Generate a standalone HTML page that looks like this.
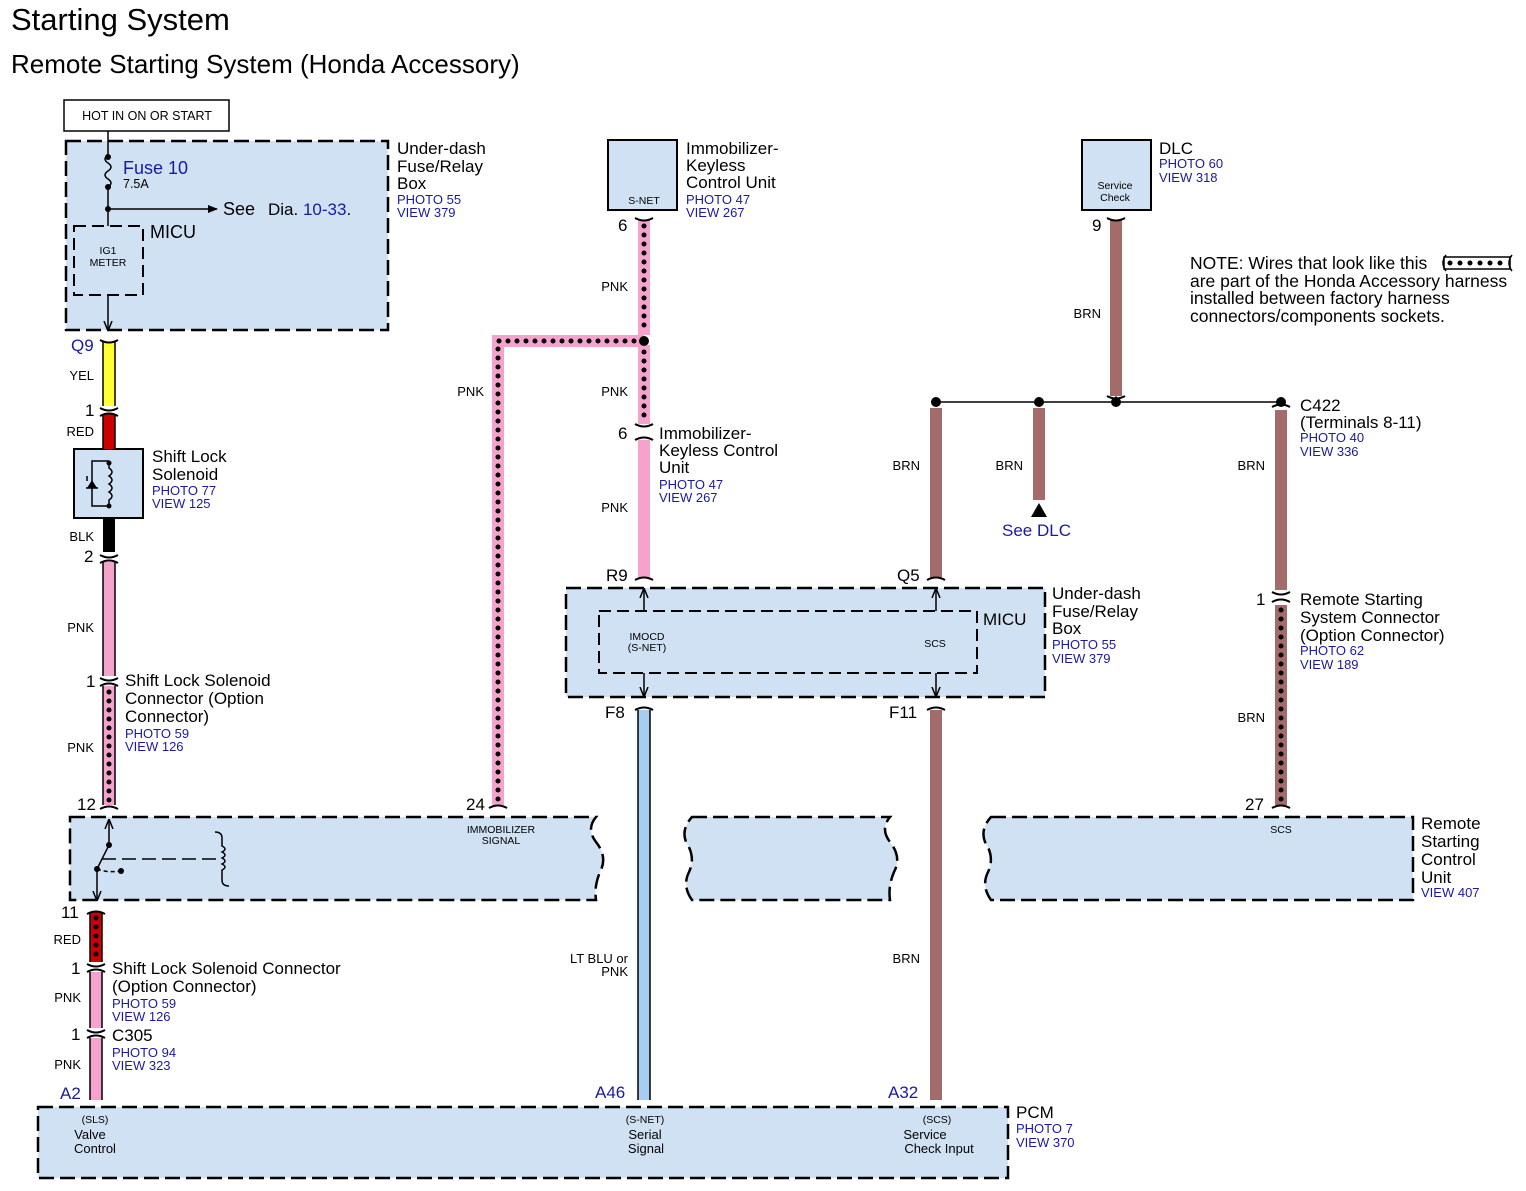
<!DOCTYPE html>
<html><head><meta charset="utf-8"><style>
html,body{margin:0;padding:0;background:#fff}
svg{display:block}
text{font-family:"Liberation Sans",Arial,sans-serif}
.b{fill:#1a1aa0}
</style></head><body>
<svg width="1526" height="1191" viewBox="0 0 1526 1191" xmlns="http://www.w3.org/2000/svg">
<defs>
<marker id="ar" markerWidth="10" markerHeight="10" refX="9" refY="5" orient="auto" markerUnits="userSpaceOnUse"><path d="M0,1 L10,5 L0,9" fill="none" stroke="#000" stroke-width="1.5"/></marker>
<marker id="af" markerWidth="10" markerHeight="10" refX="9" refY="5" orient="auto" markerUnits="userSpaceOnUse"><path d="M0,1 L10,5 L0,9 z" fill="#000"/></marker>
</defs>
<text x="11" y="30" font-size="31">Starting System</text>
<text x="11" y="73" font-size="26">Remote Starting System (Honda Accessory)</text>

<!-- HOT box -->
<rect x="64" y="100" width="165" height="31" fill="#fff" stroke="#000" stroke-width="1.5"/>
<text x="147" y="120" font-size="12.5" text-anchor="middle">HOT IN ON OR START</text>

<g fill="#cfe1f3" stroke="#000" stroke-width="2.5" stroke-dasharray="15 6">
<rect x="66" y="141" width="322" height="189"/>
<rect x="566" y="588" width="479" height="109"/>
<rect x="38" y="1107" width="970" height="71"/>
</g>
<g fill="#cfe1f3" stroke="#000" stroke-width="2.5" stroke-dasharray="15 6">
<path d="M70,817 H596 q-10,12 0,25 q12,15 4,30 q-6,14 -4,28 H70 Z"/>
<path d="M692,817 H890 q-10,12 0,25 q12,15 4,30 q-6,14 -4,28 H692 q-10,-14 -3,-28 q7,-15 -3,-30 q-5,-13 6,-25 Z"/>
<path d="M991,817 H1413 V900 H991 q-10,-14 -3,-28 q7,-15 -3,-30 q-5,-13 6,-25 Z"/>
</g>
<g fill="#cfe1f3" stroke="#000" stroke-width="2" stroke-dasharray="12 6">
<rect x="74" y="226" width="69" height="69"/>
<rect x="599" y="611" width="378" height="62"/>
</g>
<g fill="#cfe1f3" stroke="#000" stroke-width="2">
<rect x="608" y="140" width="69" height="70"/>
<rect x="1082" y="140" width="69" height="70"/>
<rect x="74" y="449" width="69" height="69"/>
</g>

<!-- fuse box internals -->
<g stroke="#000" stroke-width="1.5" fill="none">
<path d="M108,131 V155 q-6,4 0,8 q6,4 0,8 q-6,4 0,8 q6,4 0,8 V226"/>
<path d="M108,209 H217" marker-end="url(#af)"/>
<path d="M108,295 V330" marker-end="url(#ar)"/>
</g>
<g fill="#000"><circle cx="108" cy="157" r="3"/><circle cx="108" cy="187" r="3"/><circle cx="108" cy="209" r="3"/></g>
<text x="123" y="174" font-size="18" class="b">Fuse 10</text>
<text x="123" y="188" font-size="12.5">7.5A</text>
<text x="223" y="215" font-size="18">See</text><text x="268" y="215" font-size="17">Dia. <tspan class="b">10-33</tspan>.</text>
<text x="150" y="238" font-size="18">MICU</text>
<text x="108" y="254" font-size="10.5" text-anchor="middle">IG1</text>
<text x="108" y="266" font-size="10.5" text-anchor="middle">METER</text>
<g font-size="17"><text x="397" y="154">Under-dash</text><text x="397" y="172">Fuse/Relay</text><text x="397" y="189">Box</text></g>
<g font-size="13" class="b"><text x="397" y="204">PHOTO 55</text><text x="397" y="217">VIEW 379</text></g>

<!-- wires -->
<g stroke-width="12" fill="none">
<path d="M109,342 V406" stroke="#ffff33"/>
<path d="M109,414 V449" stroke="#cc0000"/>
<path d="M109,518 V552" stroke="#000"/>
<path d="M109,562 V676" stroke="#f5a3cc"/>
<path d="M109,686 V805" stroke="#f5a3cc"/>
<path d="M96,912 V962" stroke="#cc0000"/>
<path d="M96,972 V1028" stroke="#f5a3cc"/>
<path d="M96,1038 V1100" stroke="#f5a3cc"/>
<path d="M644,220 V335 M644,345 V424 M644,440 V578" stroke="#f5a3cc"/>
<path d="M644,341 H498 V805" stroke="#f5a3cc" stroke-linejoin="miter"/>
<path d="M644,710 V1100" stroke="#a6cdf2"/>
<path d="M1116,220 V396 M936,408 V578 M1039,408 V500 M1281,410 V590 M1281,605 V805 M936,710 V1100" stroke="#a46b6b"/>
</g>
<g stroke="#000" stroke-width="1.5" fill="none">
<path d="M103,342 V406 M115,342 V406 M103,414 V449 M115,414 V449 M103,562 V676 M115,562 V676 M103,686 V805 M115,686 V805 M90,912 V962 M102,912 V962 M90,972 V1028 M102,972 V1028 M90,1038 V1100 M102,1038 V1100"/>
<path d="M638,710 V1100 M650,710 V1100"/>
<path d="M936,402 H1281"/>
</g>
<g stroke="#000" stroke-width="5" stroke-linecap="round" stroke-dasharray="0 9" fill="none">
<path d="M109,692 V802 M96,918 V958 M644,226 V330 M644,352 V420 M1281,610 V802"/>
<path d="M634,341 H498 V802"/>
</g>
<g fill="#000"><circle cx="644" cy="341" r="5"/><circle cx="936" cy="402" r="5"/><circle cx="1039" cy="402" r="5"/><circle cx="1116" cy="402" r="5"/><circle cx="1281" cy="402" r="5"/></g>
<path d="M1031,517 L1039,503 L1047,517 Z" fill="#000"/>
<path d="M1116,396 V402" stroke="#000"/>

<!-- connectors -->
<g stroke="#000" stroke-width="2" fill="none">
<path d="M100,340 q9,5 18,0 M100,408 q9,5 18,0 M100,416 q9,-5 18,0 M100,555 q9,5 18,0 M100,563 q9,-5 18,0 M100,678 q9,5 18,0 M100,686 q9,-5 18,0 M100,809 q9,-5 18,0"/>
<path d="M87,914 q9,-5 18,0 M87,964 q9,5 18,0 M87,972 q9,-5 18,0 M87,1030 q9,5 18,0 M87,1038 q9,-5 18,0"/>
<path d="M635,218 q9,5 18,0 M635,424 q9,5 18,0 M635,440 q9,-5 18,0 M635,580 q9,-5 18,0 M635,710 q9,-5 18,0"/>
<path d="M489,808 q9,-5 18,0 M1107,218 q9,5 18,0 M1107,396 q9,5 18,0 M927,580 q9,-5 18,0 M927,710 q9,-5 18,0 M1272,407 q9,-5 18,0 M1272,592 q9,5 18,0 M1272,602 q9,-5 18,0 M1272,808 q9,-5 18,0"/>
</g>

<!-- solenoid -->
<g stroke="#000" stroke-width="1.5" fill="none">
<path d="M109,461 V468 q6,4 0,8 q6,4 0,8 q6,4 0,8 q6,4 0,8 V506 H92 V461 H109"/>
<path d="M86,488 H98"/><path d="M87,476 V481"/>
</g>
<path d="M87,488 L92,480 L97,488 Z" fill="#000"/>
<g fill="#000"><circle cx="109" cy="463" r="2.5"/><circle cx="109" cy="506" r="2.5"/></g>

<!-- relay -->
<g stroke="#000" stroke-width="1.5" fill="none">
<path d="M109,845 V820" marker-end="url(#ar)"/>
<path d="M109,845 L97,869"/>
<path d="M97,869 V900" marker-end="url(#ar)"/>
<path d="M97,869 q10,4 24,2" stroke-dasharray="4 3"/>
<path d="M102,859 H222" stroke-dasharray="14 6"/>
<path d="M215,832 q7,0 7,6 V846 q6,3 0,6 q6,3 0,6 q6,3 0,6 q6,3 0,6 V880 q0,6 7,6"/>
</g>
<g fill="#000"><circle cx="109" cy="845" r="3"/><circle cx="97" cy="869" r="3"/><circle cx="121" cy="871" r="3"/></g>

<g stroke="#000" stroke-width="1.5" fill="none">
<path d="M644,611 V589" marker-end="url(#ar)"/><path d="M936,611 V589" marker-end="url(#ar)"/>
<path d="M644,673 V696" marker-end="url(#ar)"/><path d="M936,673 V696" marker-end="url(#ar)"/>
</g>

<!-- labels -->
<g font-size="17">
<text x="71" y="351" class="b">Q9</text><text x="85" y="416">1</text><text x="84" y="562">2</text><text x="86" y="687">1</text><text x="77" y="810">12</text>
<text x="61" y="918">11</text><text x="71" y="974">1</text><text x="71" y="1040">1</text><text x="60" y="1099" class="b">A2</text>
<text x="466" y="810">24</text><text x="618" y="231">6</text><text x="618" y="439">6</text><text x="606" y="581">R9</text>
<text x="605" y="718">F8</text><text x="595" y="1098" class="b">A46</text>
<text x="1092" y="231">9</text><text x="897" y="581">Q5</text><text x="889" y="718">F11</text><text x="888" y="1098" class="b">A32</text>
<text x="1256" y="605">1</text><text x="1245" y="810">27</text>
<text x="152" y="462">Shift Lock</text><text x="152" y="480">Solenoid</text>
<text x="125" y="686">Shift Lock Solenoid</text><text x="125" y="704">Connector (Option</text><text x="125" y="722">Connector)</text>
<text x="112" y="974">Shift Lock Solenoid Connector</text><text x="112" y="992">(Option Connector)</text>
<text x="112" y="1041">C305</text>
<text x="686" y="154">Immobilizer-</text><text x="686" y="171">Keyless</text><text x="686" y="188">Control Unit</text>
<text x="659" y="439">Immobilizer-</text><text x="659" y="456">Keyless Control</text><text x="659" y="473">Unit</text>
<text x="983" y="625">MICU</text>
<text x="1052" y="599">Under-dash</text><text x="1052" y="617">Fuse/Relay</text><text x="1052" y="634">Box</text>
<text x="1159" y="154">DLC</text>
<text x="1300" y="411">C422</text><text x="1300" y="428">(Terminals 8-11)</text>
<text x="1002" y="536" class="b">See DLC</text>
<text x="1300" y="605">Remote Starting</text><text x="1300" y="623">System Connector</text><text x="1300" y="641">(Option Connector)</text>
<text x="1421" y="829">Remote</text><text x="1421" y="847">Starting</text><text x="1421" y="865">Control</text><text x="1421" y="883">Unit</text>
<text x="1016" y="1118">PCM</text>
</g>
<g font-size="17.5">
<text x="1190" y="269">NOTE: Wires that look like this</text>
<text x="1190" y="287">are part of the Honda Accessory harness</text>
<text x="1190" y="304">installed between factory harness</text>
<text x="1190" y="322">connectors/components sockets.</text>
</g>
<g font-size="13" class="b">
<text x="152" y="495">PHOTO 77</text><text x="152" y="508">VIEW 125</text>
<text x="125" y="738">PHOTO 59</text><text x="125" y="751">VIEW 126</text>
<text x="112" y="1008">PHOTO 59</text><text x="112" y="1021">VIEW 126</text>
<text x="112" y="1057">PHOTO 94</text><text x="112" y="1070">VIEW 323</text>
<text x="686" y="204">PHOTO 47</text><text x="686" y="217">VIEW 267</text>
<text x="659" y="489">PHOTO 47</text><text x="659" y="502">VIEW 267</text>
<text x="1052" y="649">PHOTO 55</text><text x="1052" y="663">VIEW 379</text>
<text x="1159" y="168">PHOTO 60</text><text x="1159" y="182">VIEW 318</text>
<text x="1300" y="442">PHOTO 40</text><text x="1300" y="456">VIEW 336</text>
<text x="1300" y="655">PHOTO 62</text><text x="1300" y="669">VIEW 189</text>
<text x="1421" y="897">VIEW 407</text>
<text x="1016" y="1133">PHOTO 7</text><text x="1016" y="1147">VIEW 370</text>
</g>
<g font-size="13" text-anchor="end">
<text x="94" y="380">YEL</text><text x="94" y="436">RED</text><text x="94" y="541">BLK</text><text x="94" y="632">PNK</text><text x="94" y="752">PNK</text>
<text x="81" y="944">RED</text><text x="81" y="1002">PNK</text><text x="81" y="1069">PNK</text>
<text x="484" y="396">PNK</text><text x="628" y="291">PNK</text><text x="628" y="396">PNK</text><text x="628" y="512">PNK</text>
<text x="628" y="963">LT BLU or</text><text x="628" y="976">PNK</text>
<text x="1101" y="318">BRN</text><text x="920" y="470">BRN</text><text x="1023" y="470">BRN</text><text x="1265" y="470">BRN</text><text x="1265" y="722">BRN</text><text x="920" y="963">BRN</text>
</g>
<g font-size="10.5" text-anchor="middle">
<text x="644" y="204">S-NET</text>
<text x="1115" y="189">Service</text><text x="1115" y="201">Check</text>
<text x="501" y="833">IMMOBILIZER</text><text x="501" y="844">SIGNAL</text>
<text x="1281" y="833">SCS</text>
<text x="647" y="640">IMOCD</text><text x="647" y="651">(S-NET)</text>
<text x="935" y="647">SCS</text>
<text x="95" y="1123">(SLS)</text><text x="645" y="1123">(S-NET)</text><text x="937" y="1123">(SCS)</text>
</g>
<g font-size="13" text-anchor="middle">
<text x="90" y="1139">Valve</text><text x="95" y="1153">Control</text>
<text x="645" y="1139">Serial</text><text x="646" y="1153">Signal</text>
<text x="925" y="1139">Service</text><text x="939" y="1153">Check Input</text>
</g>
<rect x="1444" y="257" width="66" height="12" fill="#fff" stroke="#000" stroke-width="1.5"/>
<path d="M1450,263 H1506" stroke="#000" stroke-width="5" stroke-linecap="round" stroke-dasharray="0 10"/>
<path d="M1446,255 q-6,8 0,16 M1512,255 q-6,8 0,16" stroke="#000" fill="none" stroke-width="1.5"/>
</svg>
</body></html>
